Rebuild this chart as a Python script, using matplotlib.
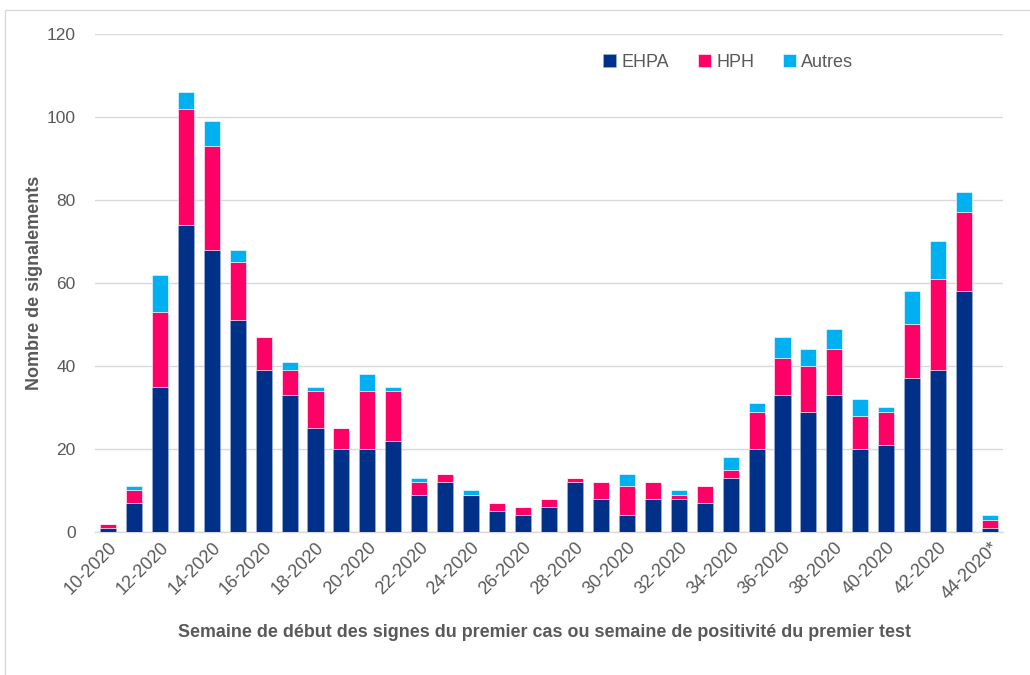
import matplotlib
matplotlib.use("Agg")
import matplotlib.pyplot as plt
from matplotlib.patches import Rectangle
import numpy as np

weeks = [f"{w}-2020" for w in range(10, 45)]
weeks[-1] = "44-2020*"
ehpa = [1, 7, 35, 74, 68, 51, 39, 33, 25, 20, 20, 22, 9, 12, 9, 5, 4, 6, 12, 8,
        4, 8, 8, 7, 13, 20, 33, 29, 33, 20, 21, 37, 39, 58, 1]
hph = [1, 3, 18, 28, 25, 14, 8, 6, 9, 5, 14, 12, 3, 2, 0, 2, 2, 2, 1, 4,
       7, 4, 1, 4, 2, 9, 9, 11, 11, 8, 8, 13, 22, 19, 2]
autres = [0, 1, 9, 4, 6, 3, 0, 2, 1, 0, 4, 1, 1, 0, 1, 0, 0, 0, 0, 0,
          3, 0, 1, 0, 3, 2, 5, 4, 5, 4, 1, 8, 9, 5, 1]
series_names = ["EHPA", "HPH", "Autres"]
colors = ["#003087", "#FF0066", "#00B0F0"]

plt.rcParams['font.family'] = ['Liberation Sans', 'DejaVu Sans']
fig = plt.figure(figsize=(10.30, 6.75), dpi=100)
ax = fig.add_axes([0.0922, 0.2119, 0.8816, 0.7377])

fig.patches.append(Rectangle((0.005, -0.1), 1.2, 1.0852, transform=fig.transFigure,
                             fill=False, edgecolor="#D9D9D9", lw=1.0))

x = np.arange(len(weeks))
bottom = np.zeros(len(weeks))
for name, vals, c in zip(series_names, [ehpa, hph, autres], colors):
    vals = np.array(vals, dtype=float)
    ax.bar(x, vals, bottom=bottom, width=0.62, color=c, label=name,
           edgecolor="#9FB4D8" if name == "EHPA" else "white", linewidth=0.4, zorder=3)
    bottom += vals

ax.set_xlim(-0.5, len(weeks) - 0.5)
ax.set_ylim(0, 120)
ax.set_yticks(range(0, 121, 20))
ax.yaxis.grid(True, color="#D9D9D9", lw=1.0, zorder=0)
for s in ["top", "right", "left"]:
    ax.spines[s].set_visible(False)
ax.spines["bottom"].set_color("#D9D9D9")
ax.spines["bottom"].set_linewidth(1.0)
ax.tick_params(axis="both", length=0, colors="#595959", labelsize=12.5)
ax.tick_params(axis="x", labelsize=13, pad=5)
ax.tick_params(axis="y", pad=14)
ax.set_xticks(x[::2])
ax.set_xticklabels(weeks[::2], rotation=45, ha="right", rotation_mode="anchor")

ax.set_ylabel("Nombre de signalements", fontsize=13, fontweight="bold", color="#595959")
ax.yaxis.set_label_coords(-0.057, 0.5)
fig.text(0.529, 0.063, "Semaine de début des signes du premier cas ou semaine de positivité du premier test",
         ha="center", va="center", fontsize=12.9, fontweight="bold", color="#595959")

leg = ax.legend(loc="center", bbox_to_anchor=(0.707, 0.908), bbox_transform=fig.transFigure,
                ncol=3, frameon=False, fontsize=13, handlelength=0.7, handleheight=0.7,
                columnspacing=1.6, handletextpad=0.3)
for t in leg.get_texts():
    t.set_color("#595959")

fig.savefig("out.png", dpi=100)
